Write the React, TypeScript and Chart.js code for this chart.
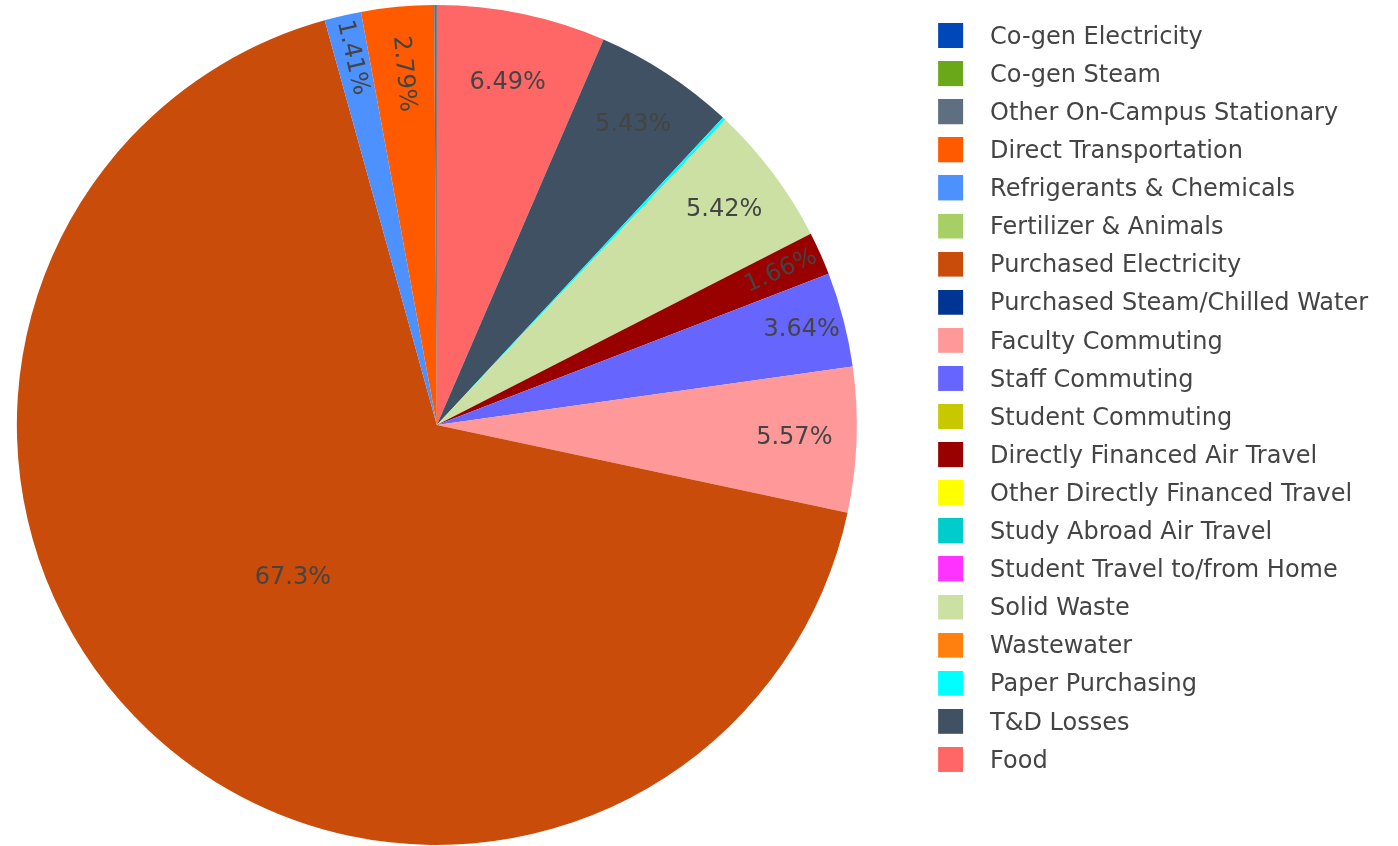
import React, { useEffect, useRef } from "react";
import { Chart, registerables } from "chart.js";

Chart.register(...registerables);

// ---- data (legend order) ----
const categories: string[] = [
  "Co-gen Electricity",
  "Co-gen Steam",
  "Other On-Campus Stationary",
  "Direct Transportation",
  "Refrigerants & Chemicals",
  "Fertilizer & Animals",
  "Purchased Electricity",
  "Purchased Steam/Chilled Water",
  "Faculty Commuting",
  "Staff Commuting",
  "Student Commuting",
  "Directly Financed Air Travel",
  "Other Directly Financed Travel",
  "Study Abroad Air Travel",
  "Student Travel to/from Home",
  "Solid Waste",
  "Wastewater",
  "Paper Purchasing",
  "T&D Losses",
  "Food",
];

// share of total emissions (percent)
const shares: number[] = [
  0, 0, 0.1, 2.79, 1.41, 0, 67.3, 0, 5.57, 3.64, 0, 1.66, 0, 0, 0, 5.42, 0, 0.12, 5.43, 6.49,
];

const colors: string[] = [
  "#0048ba",
  "#6aa81a",
  "#5e6f81",
  "#ff5a00",
  "#4d91ff",
  "#a6d066",
  "#c94c0b",
  "#003594",
  "#ff9999",
  "#6666ff",
  "#c8c800",
  "#990000",
  "#ffff00",
  "#00cccc",
  "#ff33ff",
  "#cce0a4",
  "#ff800e",
  "#00ffff",
  "#3f5163",
  "#ff6666",
];

const FONT_FAMILY = '"DejaVu Sans", Verdana, sans-serif';
const FONT_SIZE = 24;
const TEXT_COLOR = "#444444";

export default function App() {
  const ref = useRef<HTMLCanvasElement>(null);

  useEffect(() => {
    const canvas = ref.current;
    if (!canvas) return;

    const W = 1398;
    const pieLeft = 16.7;
    const pieTop = 5;
    const pieBottomPad = 1;
    const legendLeft = 857;
    const labelPad = 14.1;
    const swatchW = 107;
    const swatchH = 29;
    const squareX = 67;
    const square = 25;

    const mctx = document.createElement("canvas").getContext("2d") as CanvasRenderingContext2D;
    mctx.font = `${FONT_SIZE}px ${FONT_FAMILY}`;
    const maxText = Math.max(...categories.map((c) => mctx.measureText(c).width));
    const legendWidth = labelPad + swatchW + FONT_SIZE / 2 + maxText + 10;
    const padRight = W - legendLeft - legendWidth;

    // draw in reversed order so slices run counter-clockwise in legend order
    const order = categories.map((_, i) => categories.length - 1 - i);
    const dataLabels = order.map((i) => categories[i]);
    const dataValues = order.map((i) => shares[i]);
    const dataColors = order.map((i) => colors[i]);

    const swatches = colors.map((c) => {
      const sc = document.createElement("canvas");
      sc.width = swatchW;
      sc.height = swatchH;
      const g = sc.getContext("2d") as CanvasRenderingContext2D;
      g.fillStyle = c;
      g.fillRect(squareX, 0, square, square);
      return sc;
    });

    const labelPlugin = {
      id: "sliceLabels",
      afterDatasetsDraw(chart: any) {
        const ctx = chart.ctx as CanvasRenderingContext2D;
        const meta = chart.getDatasetMeta(0);
        const values = chart.data.datasets[0].data as number[];
        const total = values.reduce((a, b) => a + b, 0);
        ctx.save();
        ctx.font = `${FONT_SIZE}px ${FONT_FAMILY}`;
        ctx.fillStyle = TEXT_COLOR;
        ctx.textAlign = "center";
        ctx.textBaseline = "middle";
        meta.data.forEach((arc: any, i: number) => {
          const frac = values[i] / total;
          if (frac < 0.01) return;
          const p = arc.getProps(["x", "y", "startAngle", "endAngle", "outerRadius"], true);
          const r = p.outerRadius;
          const text = (frac * 100).toPrecision(3) + "%";
          const w = ctx.measureText(text).width;
          const h = FONT_SIZE;
          const mid = (p.startAngle + p.endAngle) / 2;
          const half = (p.endAngle - p.startAngle) / 2;
          const rIns = half >= Math.PI / 2 ? 0.5 : Math.min(Math.sin(half) / (1 + Math.sin(half)), 0.5);
          let d: number;
          let rot = 0;
          if (Math.sqrt(w * w + h * h) <= 2 * rIns * r) {
            d = (1 - rIns) * r;
          } else {
            const hh = Math.max(0.0001, half - 6 / r);
            const a = w / h;
            const q = a + 1 / (2 * Math.tan(hh));
            const s = r * Math.min(1 / (Math.sqrt(q * q + 0.5) + q), 1 / (Math.sqrt(a * a + 0.5) + a));
            const b = s / r;
            d = Math.min((Math.cos(b) - a * b) * r, r - w / 2 - 5);
            rot = mid;
            while (rot > Math.PI / 2) rot -= Math.PI;
            while (rot <= -Math.PI / 2) rot += Math.PI;
          }
          const tx = p.x + d * Math.cos(mid);
          const ty = p.y + d * Math.sin(mid);
          ctx.save();
          ctx.translate(tx, ty);
          ctx.rotate(rot);
          ctx.fillText(text, 0, 0);
          ctx.restore();
        });
        ctx.restore();
      },
    };

    const chart = new Chart(canvas, {
      type: "pie",
      data: {
        labels: dataLabels,
        datasets: [
          {
            data: dataValues,
            backgroundColor: dataColors,
            borderWidth: 0,
          },
        ],
      },
      options: {
        responsive: false,
        animation: false,
        events: [],
        layout: {
          padding: { left: pieLeft, top: pieTop, bottom: pieBottomPad, right: padRight },
        },
        plugins: {
          tooltip: { enabled: false },
          legend: {
            position: "right",
            align: "start",
            title: {
              display: true,
              text: "",
              font: { size: 1 },
              padding: { top: 5.2, bottom: 0 },
            },
            labels: {
              usePointStyle: true,
              pointStyleWidth: swatchW,
              padding: labelPad,
              color: TEXT_COLOR,
              font: { family: FONT_FAMILY, size: FONT_SIZE },
              generateLabels: () =>
                categories.map((c, i) => ({
                  text: c,
                  fillStyle: colors[i],
                  strokeStyle: colors[i],
                  lineWidth: 0,
                  pointStyle: swatches[i],
                  fontColor: TEXT_COLOR,
                  hidden: false,
                  index: order.indexOf(i),
                })),
            },
          },
        },
      } as any,
      plugins: [labelPlugin as any],
    });

    return () => {
      chart.destroy();
    };
  }, []);

  return (
    <div style={{ position: "fixed", left: 0, top: 0, width: 1398, height: 846, background: "#fff" }}>
      <canvas ref={ref} width={1398} height={846} style={{ display: "block" }} />
    </div>
  );
}
